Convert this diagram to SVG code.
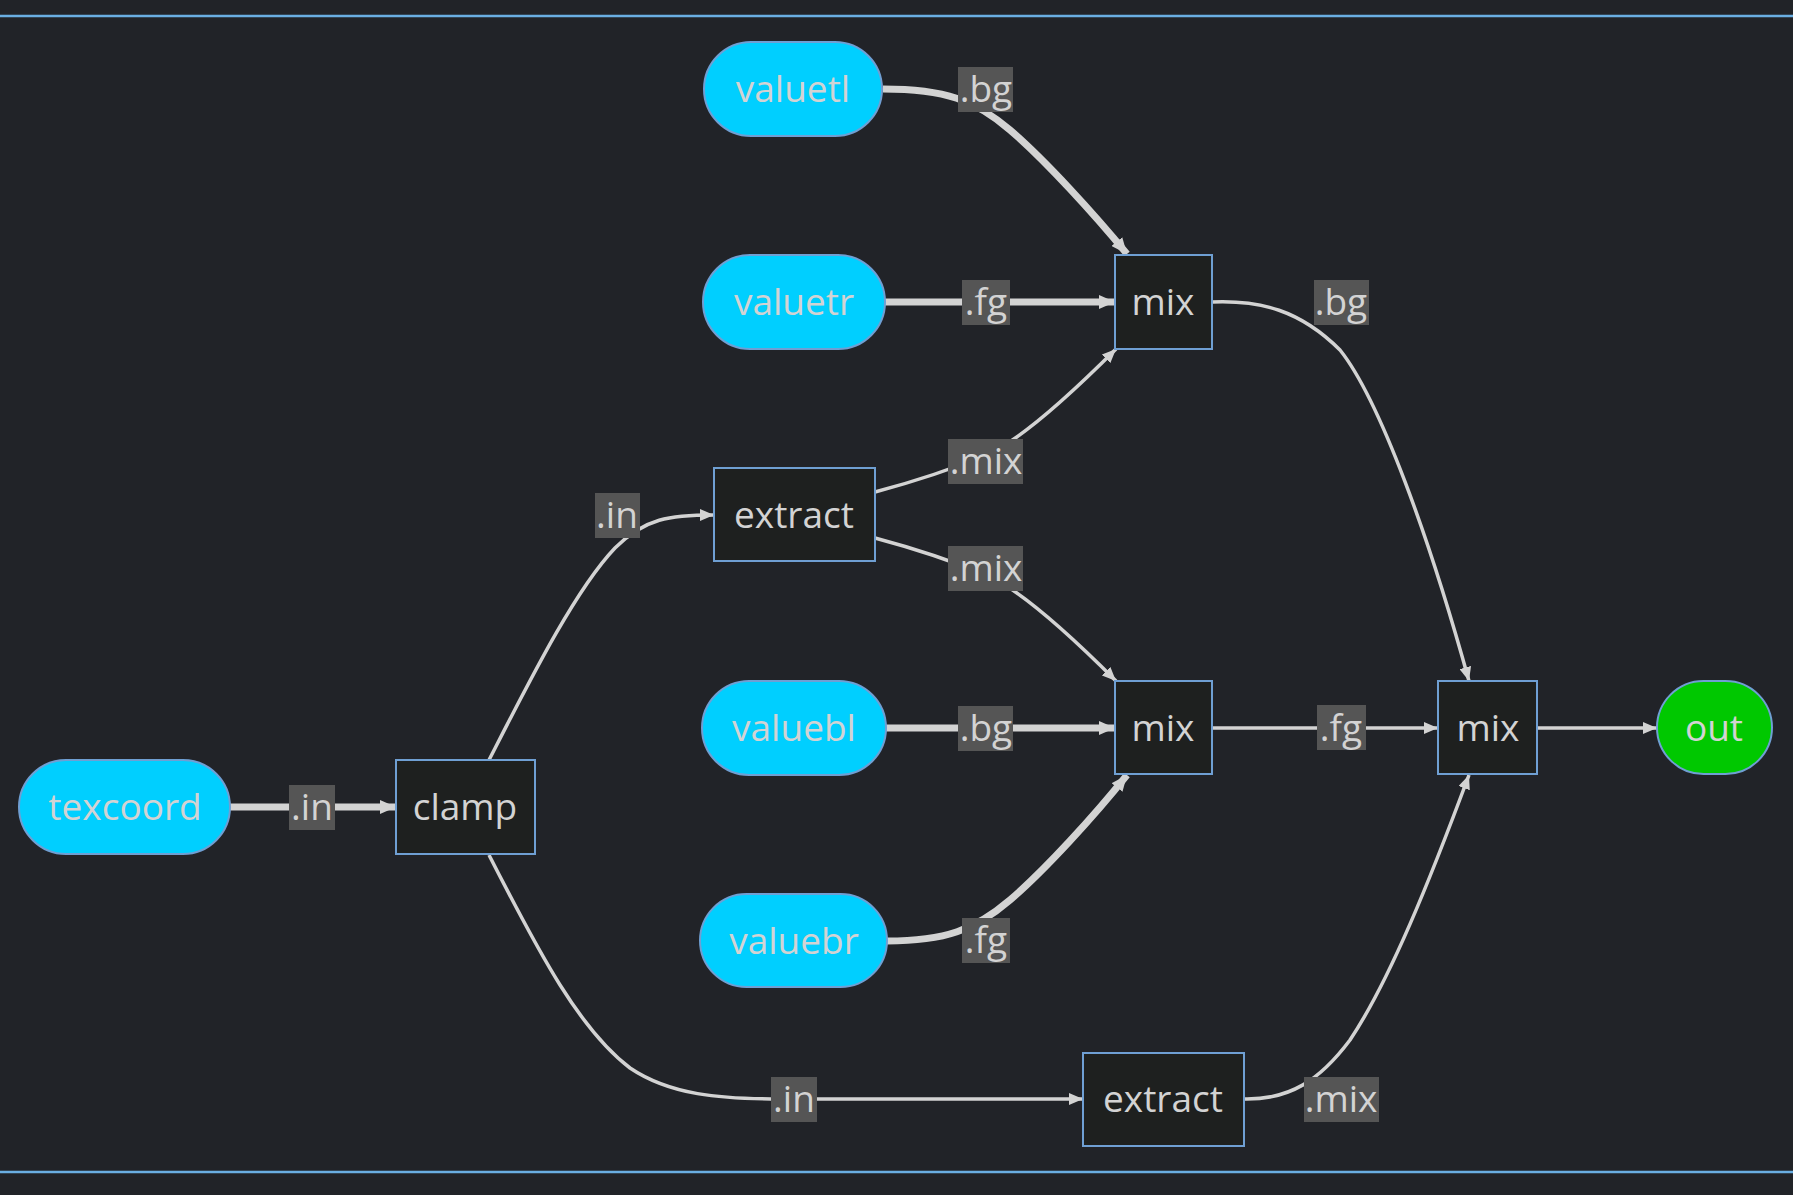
<svg xmlns="http://www.w3.org/2000/svg" width="1793" height="1195" viewBox="0 0 1793 1195">
<style>
.bgr{fill:#212328}
.frame{stroke:#6aaee2;stroke-width:2.5;fill:none}
.e{fill:none;stroke:#d3d3d3;stroke-width:3.5}
.t{stroke-width:7}
.term rect{fill:#00cfff;stroke:#6f9fd3;stroke-width:2}
.op rect{fill:#1e201f;stroke:#6f9fd3;stroke-width:2}
.outn rect{fill:#00c800;stroke:#6f9fd3;stroke-width:2}
text{font-family:"Open Sans","Noto Sans","DejaVu Sans",sans-serif;font-size:37px;fill:#d3d3d3;text-anchor:middle}
.lb rect{fill:#555555}
</style>
<defs>
<marker id="a" viewBox="0 0 14 12" refX="14" refY="6" markerWidth="14" markerHeight="12" markerUnits="userSpaceOnUse" orient="auto"><path d="M0,0L14,6L0,12z" fill="#d3d3d3"/></marker>
<marker id="at" viewBox="0 0 16 14" refX="16" refY="7" markerWidth="16" markerHeight="14" markerUnits="userSpaceOnUse" orient="auto"><path d="M0,0L16,7L0,14z" fill="#d3d3d3"/></marker>
</defs>
<rect class="bgr" x="0" y="0" width="1793" height="1195"/>
<line class="frame" x1="0" y1="16" x2="1793" y2="16"/>
<line class="frame" x1="0" y1="1172" x2="1793" y2="1172"/>
<g id="connectors">
<path class="e t" d="M883,89 C945,89 975,100 1010,130 S1095,215 1127,254" marker-end="url(#at)"/>
<path class="e t" d="M885,302 L1115,302" marker-end="url(#at)"/>
<path class="e" d="M875,492 C920,480 950,470 986,455 S1080,385 1116,349" marker-end="url(#a)"/>
<path class="e" d="M875,538 C920,550 950,560 986,575 S1080,645 1116,681" marker-end="url(#a)"/>
<path class="e t" d="M886,728 L1115,728" marker-end="url(#at)"/>
<path class="e t" d="M887,941 C945,941 975,930 1010,900 S1095,815 1127,775" marker-end="url(#at)"/>
<path class="e t" d="M230,807 L396,807" marker-end="url(#at)"/>
<path class="e" d="M489,760 C530,680 575,590 615,548 C645,518 670,515 714,515" marker-end="url(#a)"/>
<path class="e" d="M489,855 C540,955 580,1030 630,1068 C670,1095 720,1099 780,1099 L1083,1099" marker-end="url(#a)"/>
<path class="e" d="M1212,302 C1260,300 1300,310 1340,350 C1380,400 1430,540 1469,681" marker-end="url(#a)"/>
<path class="e" d="M1212,728 L1438,728" marker-end="url(#a)"/>
<path class="e" d="M1244,1099 C1290,1100 1320,1080 1350,1040 C1390,980 1430,880 1469,775" marker-end="url(#a)"/>
<path class="e" d="M1537,728 L1657,728" marker-end="url(#a)"/>
</g>
<g id="labels" class="lb">
<rect x="958" y="67" width="55" height="45"/><text x="986" y="102">.bg</text>
<rect x="962" y="280" width="48" height="45"/><text x="986" y="315">.fg</text>
<rect x="948" y="439" width="75" height="45"/><text x="986" y="474">.mix</text>
<rect x="948" y="546" width="75" height="45"/><text x="986" y="581">.mix</text>
<rect x="958" y="706" width="55" height="45"/><text x="986" y="741">.bg</text>
<rect x="962" y="918" width="48" height="45"/><text x="986" y="953">.fg</text>
<rect x="289" y="785" width="46" height="45"/><text x="312" y="820">.in</text>
<rect x="595" y="493" width="45" height="45"/><text x="617" y="528">.in</text>
<rect x="771" y="1077" width="46" height="45"/><text x="794" y="1112">.in</text>
<rect x="1314" y="280" width="55" height="45"/><text x="1341" y="315">.bg</text>
<rect x="1317" y="705" width="49" height="45"/><text x="1341" y="741">.fg</text>
<rect x="1304" y="1077" width="75" height="45"/><text x="1341" y="1112">.mix</text>
</g>
<g id="valuetl" class="term"><rect x="704" y="42" width="178" height="94" rx="47"/><text x="793" y="102">valuetl</text></g>
<g id="valuetr" class="term"><rect x="703" y="255" width="182" height="94" rx="47"/><text x="794" y="315">valuetr</text></g>
<g id="mix1" class="op"><rect x="1115" y="255" width="97" height="94"/><text x="1163" y="315">mix</text></g>
<g id="extract1" class="op"><rect x="714" y="468" width="161" height="93"/><text x="794" y="528">extract</text></g>
<g id="valuebl" class="term"><rect x="702" y="681" width="184" height="94" rx="47"/><text x="794" y="741">valuebl</text></g>
<g id="mix2" class="op"><rect x="1115" y="681" width="97" height="93"/><text x="1163" y="741">mix</text></g>
<g id="mix3" class="op"><rect x="1438" y="681" width="99" height="93"/><text x="1488" y="741">mix</text></g>
<g id="out" class="outn"><rect x="1657" y="681" width="115" height="93" rx="46.5"/><text x="1714" y="741">out</text></g>
<g id="texcoord" class="term"><rect x="19" y="760" width="211" height="94" rx="47"/><text x="125" y="820">texcoord</text></g>
<g id="clamp" class="op"><rect x="396" y="760" width="139" height="94"/><text x="465" y="820">clamp</text></g>
<g id="valuebr" class="term"><rect x="700" y="894" width="187" height="93" rx="46.5"/><text x="794" y="954">valuebr</text></g>
<g id="extract2" class="op"><rect x="1083" y="1053" width="161" height="93"/><text x="1163" y="1112">extract</text></g>
</svg>
